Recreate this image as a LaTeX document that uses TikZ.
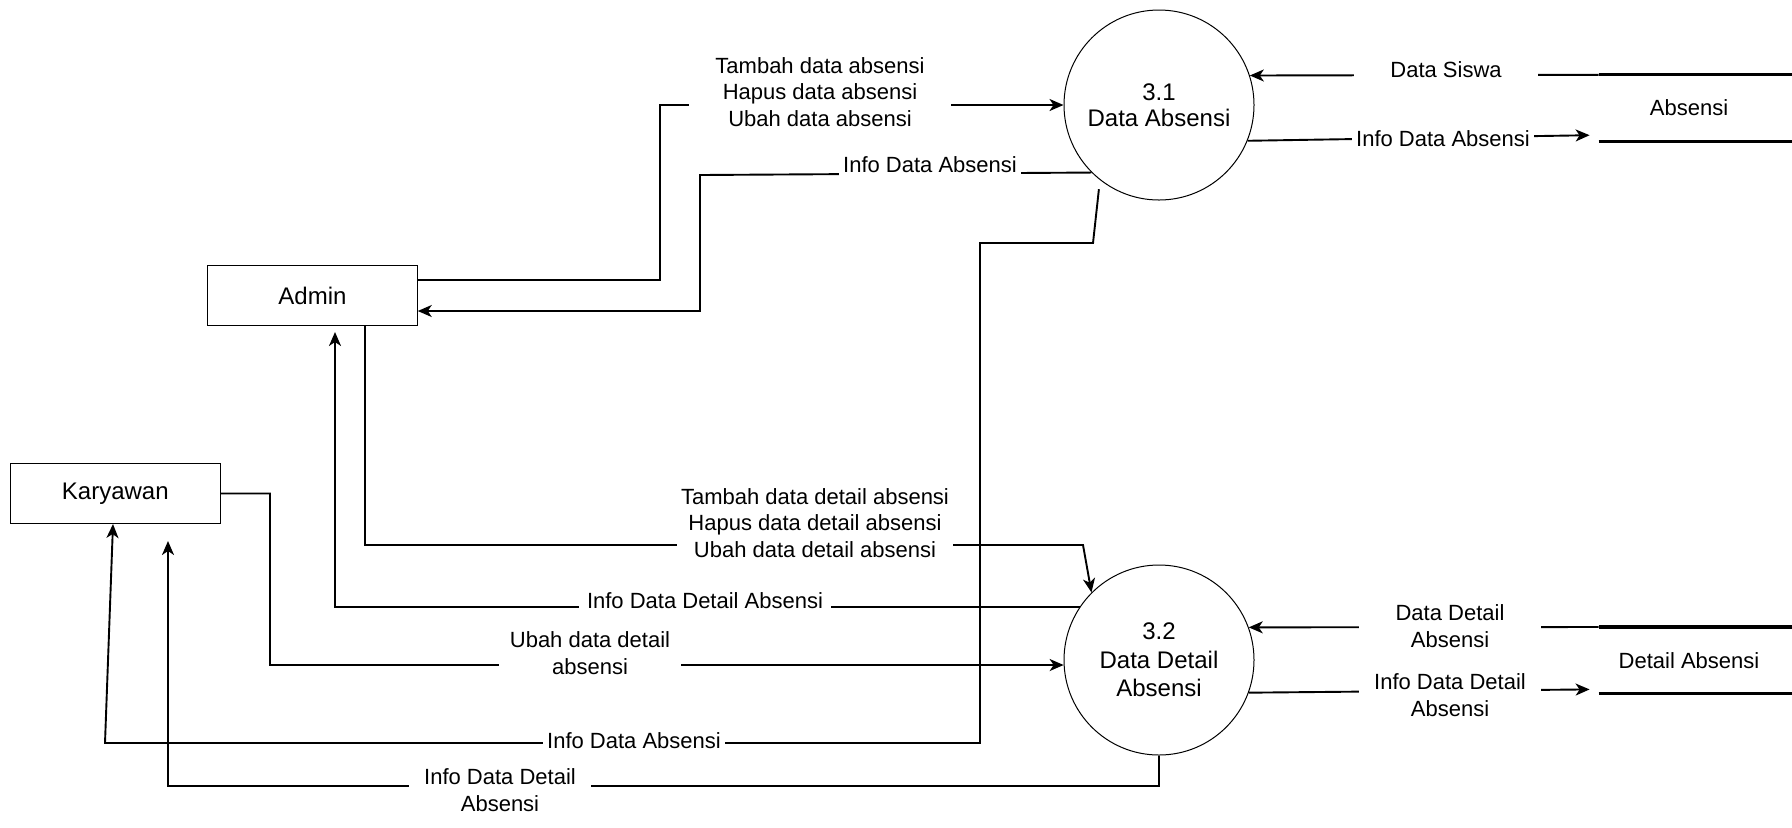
\documentclass[tikz,border=0pt]{standalone}
\usepackage{fontspec}
\setmainfont{Liberation Sans}
\usepackage{tikz}
\usetikzlibrary{positioning, arrows.meta}

\begin{document}
\begin{tikzpicture}[x=0.5pt, y=-0.5pt,
ent/.style={rectangle, draw, line width=0.5pt, minimum width=104.75pt,
minimum height=30pt, font=\fontsize{12}{14.4}\selectfont},
proc/.style={circle, draw, line width=0.5pt, minimum size=95pt, inner sep=0pt,
align=center, font=\fontsize{12}{13}\selectfont},
store/.style={rectangle, minimum width=90pt, minimum height=32.8pt,
font=\fontsize{11}{13}\selectfont},
storeline/.style={line width=1.6pt},
flow/.style={-{Stealth[length=7pt, width=6pt, inset=2pt]}, line width=0.95pt},
lbl/.style={fill=white, align=center, inner xsep=2pt, inner ysep=3pt,
font=\fontsize{11}{13.25}\selectfont}]
  \useasboundingbox (0,0) rectangle (1792,827);
  % external entities
  \node[ent] (admin)    at (312.5,295.5) {Admin};
  \node[ent] (karyawan) at (115.3,493.5) {Karyawan};
  % processes
  \node[proc] (p31) at (1159,105) {3.1\\Data Absensi};
  \node[proc, font=\fontsize{12}{14.3}\selectfont] (p32) at (1159,660) {3.2\\Data Detail\\Absensi};
  % data stores
  \node[store] (dsA) at (1689,108)   {Absensi};
  \node[store] (dsD) at (1689,660.2) {Detail Absensi};
  \foreach \s in {dsA,dsD}
    \draw[storeline] (\s.north west) -- (\s.north west -| 1792,0)
      (\s.south west) -- (\s.south west -| 1792,0);

  % flows of 3.1
  \draw[flow] (admin.east |- 0,280) -| (660,105) -- (p31.west);
  \draw[flow] (p31.225) -- (700,175) |- (admin.east |- 0,311);
  \draw[flow] ([yshift=-5pt]p31.231) -- (1093,243) -- (980,243) -- (980,743) -- (105,743)
    -- (karyawan.south -| 113,0);
  \draw[flow] (dsA.north west) -- (p31.18);
  \draw[flow] (p31.338) -- ([xshift=-4.5pt, yshift=3pt]dsA.south west);

  % flows of 3.2
  \draw[flow] (admin.south -| 365,0) |- (1083,545) -- (p32.135);
  \draw[flow, shorten >=3pt] (p32.146) -| (admin.south -| 335,0);
  \draw[flow] (karyawan.east) -| (270,665) -- (p32.183);
  \draw[flow, shorten >=8.5pt] (p32.south) |- (168,786) -- (karyawan.south -| 168,0);
  \draw[flow] (dsD.north west) -- (p32.20);
  \draw[flow] (p32.340) -- ([xshift=-4.5pt, yshift=2pt]dsD.south west);

  % flow labels
  \node[lbl, inner xsep=13pt] (lTambah) at (820,92)
    {Tambah data absensi\\Hapus data absensi\\Ubah data absensi};
  \node[lbl] (lInfoA1) at (930,165) {Info Data Absensi};
  \node[lbl, inner xsep=18pt] (lSiswa) at (1446,70) {Data Siswa};
  \node[lbl] (lInfoA2) at (1443,139) {Info Data Absensi};
  \node[lbl] (lTambahD) at (815,523)
    {Tambah data detail absensi\\Hapus data detail absensi\\Ubah data detail absensi};
  \node[lbl, inner xsep=4pt] (lInfoDD1) at (705,601) {Info Data Detail Absensi};
  \node[lbl, inner xsep=5.5pt] (lUbahD) at (590,653) {Ubah data detail\\absensi};
  \node[lbl] (lInfoA3) at (634,741) {Info Data Absensi};
  \node[lbl, inner xsep=7.5pt] (lInfoDD2) at (500,790) {Info Data Detail\\Absensi};
  \node[lbl, inner xsep=18.5pt] (lDetail) at (1450,626) {Data Detail\\Absensi};
  \node[lbl, inner xsep=7.5pt] (lInfoDD3) at (1450,695) {Info Data Detail\\Absensi};
\end{tikzpicture}
\end{document}
